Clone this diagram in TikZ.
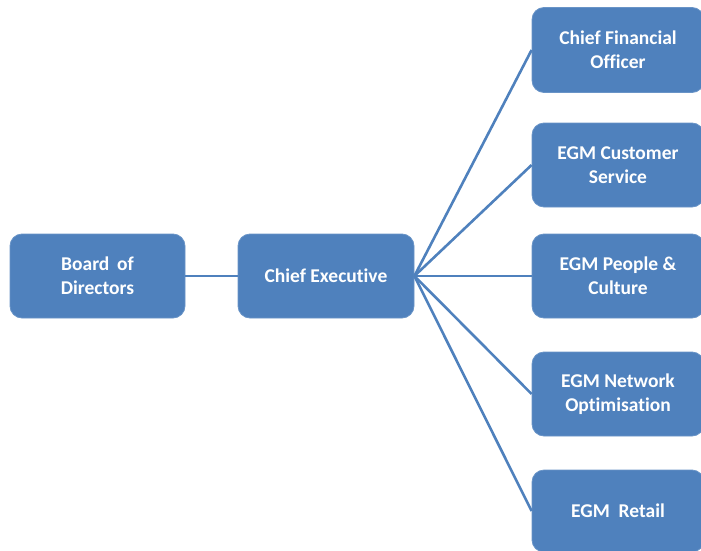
\documentclass[tikz,border=0pt]{standalone}
\usepackage{fontspec}
\setmainfont{Carlito}[Ligatures={NoCommon}]
\begin{document}
\begin{tikzpicture}[x=1pt,y=-1pt,
  orgbox/.style={draw=orgblue!85!white, line width=0.8pt, fill=orgblue, rounded corners=12pt,
    text=white, font=\bfseries\fontsize{19.5}{24}\selectfont, align=center, inner sep=0pt},
  link/.style={draw=orgblue, line width=2.6pt}]
\definecolor{orgblue}{HTML}{4F81BD}
\useasboundingbox (0,0) rectangle (701,551);
\clip (0,0) rectangle (701,551);
% left column
\node[orgbox, minimum width=175pt, minimum height=84pt] (board) at (97.5,276) {Board\ \,of\\Directors};
\node[orgbox, minimum width=176pt, minimum height=84pt] (ceo) at (326,276) {Chief Executive};
% right column of executive reports
\node[orgbox, minimum width=172pt, minimum height=85pt] (cfo) at (618,50) {Chief Financial\\Officer};
\node[orgbox, minimum width=172pt, minimum height=84pt] (cust) at (618,165) {EGM Customer\\Service};
\node[orgbox, minimum width=172pt, minimum height=84pt] (people) at (618,276) {EGM People \&\\Culture};
\node[orgbox, minimum width=172pt, minimum height=84pt] (net) at (618,394) {EGM Network\\Optimisation};
\node[orgbox, minimum width=172pt, minimum height=82pt] (retail) at (618,511) {EGM\ \ Retail};
% connectors
\draw[link] (board.east) -- (ceo.west);
\foreach \t in {cfo,cust,people,net,retail}
  \draw[link] (ceo.east) -- (\t.west);
\end{tikzpicture}
\end{document}
